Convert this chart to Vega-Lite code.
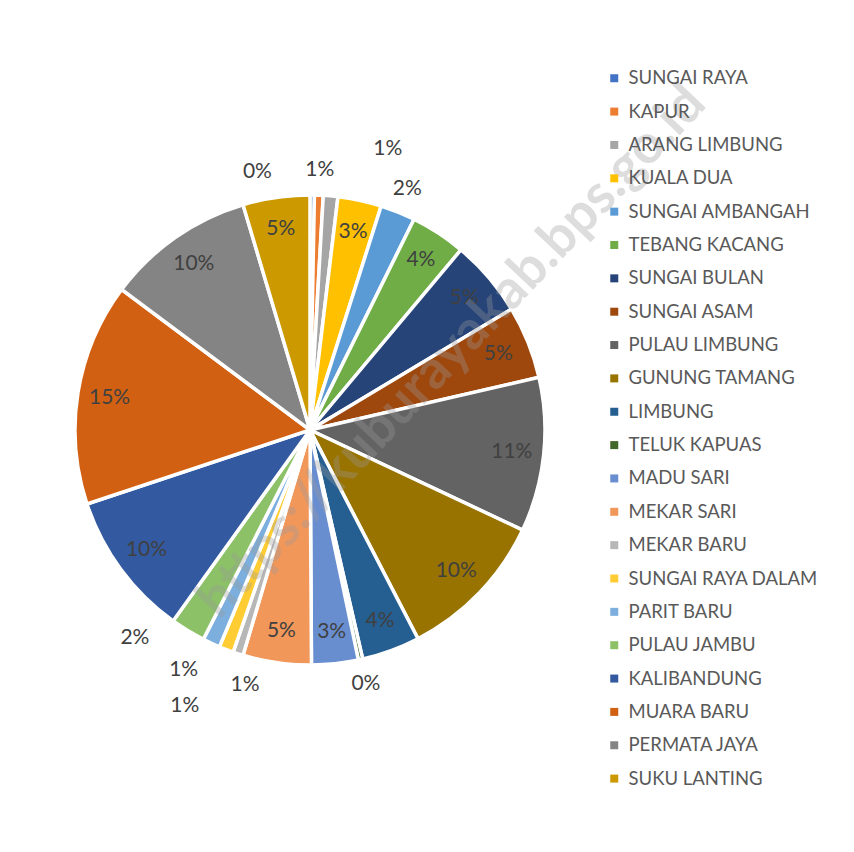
{
  "$schema": "https://vega.github.io/schema/vega-lite/v6.json",
  "width": 620,
  "height": 844,
  "autosize": {"type": "none"},
  "padding": {"left": 0, "top": 8, "right": 234, "bottom": 0},
  "background": "white",
  "config": {"view": {"stroke": null}, "font": "Lato"},
  "data": {
    "values": [
      {"i": 1, "name": "SUNGAI RAYA", "value": 0.003},
      {"i": 2, "name": "KAPUR", "value": 0.006},
      {"i": 3, "name": "ARANG LIMBUNG", "value": 0.010},
      {"i": 4, "name": "KUALA DUA", "value": 0.030},
      {"i": 5, "name": "SUNGAI AMBANGAH", "value": 0.024},
      {"i": 6, "name": "TEBANG KACANG", "value": 0.038},
      {"i": 7, "name": "SUNGAI BULAN", "value": 0.053},
      {"i": 8, "name": "SUNGAI ASAM", "value": 0.050},
      {"i": 9, "name": "PULAU LIMBUNG", "value": 0.106},
      {"i": 10, "name": "GUNUNG TAMANG", "value": 0.104},
      {"i": 11, "name": "LIMBUNG", "value": 0.040},
      {"i": 12, "name": "TELUK KAPUAS", "value": 0.003},
      {"i": 13, "name": "MADU SARI", "value": 0.032},
      {"i": 14, "name": "MEKAR SARI", "value": 0.047},
      {"i": 15, "name": "MEKAR BARU", "value": 0.007},
      {"i": 16, "name": "SUNGAI RAYA DALAM", "value": 0.010},
      {"i": 17, "name": "PARIT BARU", "value": 0.012},
      {"i": 18, "name": "PULAU JAMBU", "value": 0.024},
      {"i": 19, "name": "KALIBANDUNG", "value": 0.100},
      {"i": 20, "name": "MUARA BARU", "value": 0.153},
      {"i": 21, "name": "PERMATA JAYA", "value": 0.102},
      {"i": 22, "name": "SUKU LANTING", "value": 0.046}
    ]
  },
  "encoding": {
    "theta": {"field": "value", "type": "quantitative", "stack": true},
    "order": {"field": "i", "type": "quantitative"}
  },
  "layer": [
    {
      "mark": {"type": "arc", "radius": 235, "stroke": "white", "strokeWidth": 3.5},
      "encoding": {
        "color": {
          "field": "name",
          "type": "nominal",
          "sort": null,
          "scale": {
            "domain": ["SUNGAI RAYA", "KAPUR", "ARANG LIMBUNG", "KUALA DUA", "SUNGAI AMBANGAH", "TEBANG KACANG", "SUNGAI BULAN", "SUNGAI ASAM", "PULAU LIMBUNG", "GUNUNG TAMANG", "LIMBUNG", "TELUK KAPUAS", "MADU SARI", "MEKAR SARI", "MEKAR BARU", "SUNGAI RAYA DALAM", "PARIT BARU", "PULAU JAMBU", "KALIBANDUNG", "MUARA BARU", "PERMATA JAYA", "SUKU LANTING"],
            "range": ["#4472C4", "#ED7D31", "#A5A5A5", "#FFC000", "#5B9BD5", "#70AD47", "#264478", "#9E480E", "#636363", "#997300", "#255E91", "#43682B", "#698ED0", "#F1975A", "#B7B7B7", "#FFCD33", "#7CAFDD", "#8CC168", "#335AA1", "#D26012", "#848484", "#CC9A00"]
          },
          "legend": {
            "title": null,
            "orient": "none",
            "legendX": 605,
            "legendY": 61,
            "symbolType": "square",
            "symbolSize": 64,
            "symbolStrokeWidth": 0,
            "labelFont": "Lato",
            "labelFontSize": 18.5,
            "labelColor": "#595959",
            "labelOffset": 5,
            "rowPadding": 14.35,
            "labelLimit": 300
          }
        }
      }
    },
    {
      "mark": {"type": "text", "radius": 203, "fontSize": 21, "color": "#404040", "font": "Lato"},
      "encoding": {
        "text": {"field": "value", "type": "quantitative", "format": ".0%", "condition": {"test": "datum.value < 0.025", "value": ""}}
      }
    },
    {
      "mark": {"type": "text", "radius": 260, "fontSize": 21, "color": "#404040", "font": "Lato"},
      "encoding": {
        "text": {"field": "value", "type": "quantitative", "format": ".0%", "condition": {"test": "indexof(['KAPUR','SUNGAI AMBANGAH','TELUK KAPUAS'], datum.name) < 0", "value": ""}}
      }
    },
    {
      "mark": {"type": "text", "radius": 258, "dx": -55, "fontSize": 21, "color": "#404040", "font": "Lato"},
      "encoding": {
        "text": {"field": "value", "type": "quantitative", "format": ".0%", "condition": {"test": "datum.name !== 'SUNGAI RAYA'", "value": ""}}
      }
    },
    {
      "mark": {"type": "text", "radius": 282, "dx": 53, "fontSize": 21, "color": "#404040", "font": "Lato"},
      "encoding": {
        "text": {"field": "value", "type": "quantitative", "format": ".0%", "condition": {"test": "datum.name !== 'ARANG LIMBUNG'", "value": ""}}
      }
    },
    {
      "mark": {"type": "text", "radius": 268, "dx": 17, "fontSize": 21, "color": "#404040", "font": "Lato"},
      "encoding": {
        "text": {"field": "value", "type": "quantitative", "format": ".0%", "condition": {"test": "datum.name !== 'MEKAR BARU'", "value": ""}}
      }
    },
    {
      "mark": {"type": "text", "radius": 295, "dx": -20, "fontSize": 21, "color": "#404040", "font": "Lato"},
      "encoding": {
        "text": {"field": "value", "type": "quantitative", "format": ".0%", "condition": {"test": "datum.name !== 'SUNGAI RAYA DALAM'", "value": ""}}
      }
    },
    {
      "mark": {"type": "text", "radius": 265, "dx": -15, "fontSize": 21, "color": "#404040", "font": "Lato"},
      "encoding": {
        "text": {"field": "value", "type": "quantitative", "format": ".0%", "condition": {"test": "datum.name !== 'PARIT BARU'", "value": ""}}
      }
    },
    {
      "mark": {"type": "text", "radius": 258, "dx": -41, "dy": -12, "fontSize": 21, "color": "#404040", "font": "Lato"},
      "encoding": {
        "text": {"field": "value", "type": "quantitative", "format": ".0%", "condition": {"test": "datum.name !== 'PULAU JAMBU'", "value": ""}}
      }
    },
    {
      "data": {"values": [{"wm": "https://kuburayakab.bps.go.id"}]},
      "mark": {"type": "text", "angle": -46.5, "fontSize": 54, "fontWeight": "bold", "font": "Lato", "color": "#9a9a9a", "opacity": 0.33},
      "encoding": {
        "theta": null,
        "order": null,
        "text": {"field": "wm", "type": "nominal"},
        "x": {"value": 452},
        "y": {"value": 344}
      }
    }
  ]
}
